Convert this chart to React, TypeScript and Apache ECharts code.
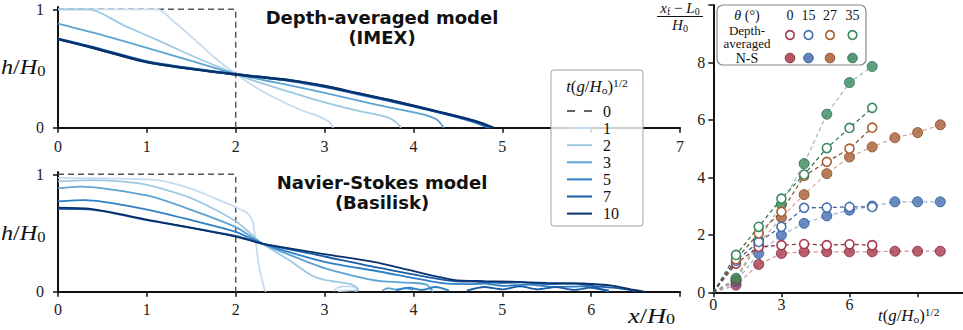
import React, { useEffect, useRef } from "react";
import * as echarts from "echarts";

const SERIF = "'Liberation Serif', 'DejaVu Serif', serif";
const SANS = "'DejaVu Sans', sans-serif";

// ---------------- Left panels: h/H0 profiles vs x/H0 ----------------
const legendTimes = ["0", "1", "2", "3", "5", "7", "10"];
const initialProfile = [[0, 1], [2, 1], [2, 0]];

// Depth-averaged model (IMEX)
const daT1 = [[0, 1], [1.12, 1], [1.3, 0.9], [1.5, 0.77], [1.75, 0.6], [2, 0.455], [2.25, 0.33], [2.5, 0.23], [2.75, 0.145], [2.95, 0.09], [3.05, 0.05], [3.1, 0]];
const daT2 = [[0, 1], [0.35, 1], [0.74, 0.865], [1.12, 0.74], [1.5, 0.61], [2, 0.455], [2.25, 0.385], [2.62, 0.3], [3.0, 0.215], [3.37, 0.145], [3.7, 0.09], [3.8, 0.05], [3.86, 0]];
const daT3 = [[0, 0.88], [0.44, 0.795], [1.0, 0.675], [1.5, 0.565], [2, 0.455], [2.62, 0.355], [3.0, 0.295], [3.37, 0.23], [3.74, 0.17], [4.12, 0.11], [4.27, 0.065], [4.34, 0]];
const daT5 = [[0, 0.75], [0.37, 0.685], [1.0, 0.56], [1.5, 0.5], [2, 0.452], [2.62, 0.395], [3.0, 0.345], [3.37, 0.285], [3.74, 0.225], [4.31, 0.125], [4.65, 0.055], [4.85, 0]];
const daT7 = [[0, 0.75], [0.37, 0.68], [1.0, 0.555], [1.5, 0.497], [2, 0.45], [2.62, 0.4], [3.0, 0.35], [3.37, 0.29], [3.74, 0.23], [4.31, 0.128], [4.68, 0.057], [4.88, 0]];
const daT10 = [[0, 0.748], [0.37, 0.68], [1.0, 0.554], [1.5, 0.497], [2, 0.45], [2.62, 0.4], [3.0, 0.352], [3.37, 0.292], [3.74, 0.232], [4.31, 0.13], [4.7, 0.055], [4.9, 0]];

// Navier-Stokes model (Basilisk)
const nsT1 = [[0, 0.97], [0.5, 0.965], [1.12, 0.95], [1.49, 0.88], [1.75, 0.8], [2, 0.72], [2.13, 0.67], [2.19, 0.6], [2.22, 0.45], [2.26, 0.23], [2.32, 0.03], [2.34, 0], [2.6, "-"], [3.1, 0.005], [3.15, 0.035], [3.25, 0.045], [3.35, 0.035], [3.37, 0.015], [3.25, 0.01], [3.15, 0.005]];
const nsT2 = [[0, 0.94], [0.37, 0.95], [0.93, 0.92], [1.49, 0.8], [2, 0.6], [2.3, 0.41], [2.62, 0.26], [2.84, 0.145], [3.0, 0.1], [3.26, 0.07], [3.35, 0.045], [3.38, 0.015], [3.34, 0.005]];
const nsT3 = [[0, 0.88], [0.25, 0.895], [1.0, 0.82], [1.49, 0.7], [2, 0.55], [2.3, 0.41], [2.62, 0.31], [3.0, 0.2], [3.3, 0.14], [3.63, 0.09], [4.0, 0.075], [4.15, 0.06], [4.2, 0.02], [4.22, 0], [4.3, "-"], [3.65, 0.01], [3.72, 0.03], [3.8, 0.02], [3.9, 0.03], [4.0, 0.015]];
const nsT5 = [[0, 0.77], [0.3, 0.78], [1.0, 0.7], [1.5, 0.61], [2, 0.51], [2.3, 0.41], [3.0, 0.255], [3.63, 0.17], [4.3, 0.075], [4.6, 0.065], [4.8, 0.07], [5.0, 0.05], [5.3, 0.06], [5.6, 0.04], [5.9, 0.045], [6.1, 0.02], [6.2, 0], [6.3, "-"], [3.8, 0.01], [3.95, 0.035], [4.1, 0.015], [4.25, 0.04], [4.4, 0.01]];
const nsT7 = [[0, 0.705], [0.37, 0.7], [1.0, 0.61], [2, 0.475], [2.3, 0.41], [3.0, 0.3], [3.63, 0.2], [4.45, 0.09], [4.7, 0.085], [5.0, 0.075], [5.2, 0.08], [5.5, 0.065], [5.8, 0.07], [6.0, 0.05], [6.3, 0.03], [6.5, 0.005], [6.55, "-"], [4.6, 0.01], [4.8, 0.04], [5.0, 0.02], [5.2, 0.045], [5.4, 0.02], [5.6, 0.04], [5.8, 0.015], [6.0, 0.035], [6.2, 0.01]];
const nsT10 = [[0, 0.716], [0.37, 0.705], [1.0, 0.615], [2, 0.47], [2.3, 0.41], [3.0, 0.32], [3.63, 0.242], [4.45, 0.1], [4.8, 0.09], [5.1, 0.085], [5.5, 0.075], [5.9, 0.07], [6.25, 0.05], [6.45, 0.02], [6.6, 0]];

const daProfiles = [daT1, daT2, daT3, daT5, daT7, daT10];
const nsProfiles = [nsT1, nsT2, nsT3, nsT5, nsT7, nsT10];
const profileColors = ["#c6dbef", "#9ecae1", "#5da3d3", "#2f7fc4", "#185ca6", "#08306b"];

// ---------------- Right panel: front position (x_f - L0)/H0 ----------------
const angleLabels = ["0", "15", "27", "35"];
const tDepthAveraged = [0, 1, 2, 3, 4, 5, 6, 7];
const tNavierStokes = [0, 1, 2, 3, 4, 5, 6, 7, 8, 9, 10];
const tNavierStokes35 = [0, 1, 2, 3, 4, 5, 6, 7];
const da0 = [0, 1.0, 1.58, 1.64, 1.68, 1.64, 1.67, 1.64];
const da15 = [0, 1.1, 1.75, 2.28, 2.94, 2.95, 2.97, 2.97];
const da27 = [0, 1.15, 2.05, 2.8, 4.05, 4.54, 5.0, 5.73];
const da35 = [0, 1.3, 2.28, 3.26, 4.1, 5.02, 5.72, 6.42];
const ns0 = [0, 0.25, 0.97, 1.35, 1.41, 1.41, 1.41, 1.41, 1.43, 1.43, 1.43];
const ns15 = [0, 0.37, 1.35, 1.99, 2.4, 2.66, 2.86, 3.0, 3.15, 3.15, 3.15];
const ns27 = [0, 0.43, 1.7, 2.6, 3.4, 4.13, 4.71, 5.06, 5.38, 5.56, 5.83];
const ns35 = [0, 0.49, 1.82, 3.06, 4.48, 6.2, 7.3, 7.86];
const angleColors = ["#a83a4c", "#4470b2", "#a85f34", "#3a8a5e"];
const angleDark = ["#7e2233", "#2b5192", "#84451f", "#24684a"];

const mathRich = (size: number) => ({
  i: { fontFamily: SERIF, fontStyle: "italic", fontSize: size, lineHeight: size + 2, fill: "#111" },
  n: { fontFamily: SERIF, fontSize: size, lineHeight: size + 2, fill: "#111" },
  s: { fontFamily: SERIF, fontSize: Math.round(size * 0.68), lineHeight: Math.round(size * 0.6), verticalAlign: "bottom", fill: "#111" },
  p: { fontFamily: SERIF, fontSize: Math.round(size * 0.68), lineHeight: Math.round(size * 0.6), verticalAlign: "top", fill: "#111" },
});

const mathText = (x: number, y: number, text: string, size: number, align = "left", sx = 1) => ({
  type: "text",
  x,
  y,
  scaleX: sx,
  z: 120,
  style: {
    text,
    rich: mathRich(size),
    fontFamily: SERIF,
    fontSize: size,
    lineHeight: size + 2,
    fill: "#111",
    align,
    textAlign: align,
    verticalAlign: "middle",
    textVerticalAlign: "middle",
  },
});

const plainText = (x: number, y: number, text: string, size: number, align = "center", family = SERIF, weight = "normal", sx = 1, lh = 0) => ({
  type: "text",
  x,
  y,
  scaleX: sx,
  z: 120,
  style: {
    text,
    fontFamily: family,
    fontSize: size,
    fontWeight: weight,
    lineHeight: lh || size + 2,
    fill: "#111",
    align,
    textAlign: align,
    verticalAlign: "middle",
    textVerticalAlign: "middle",
  },
});

const axisCommon = (gridIndex: number, min: number, max: number, ticks: number[], labels: number[], margin: number) => ({
  gridIndex,
  type: "value",
  min,
  max,
  axisLine: { show: true, onZero: false, lineStyle: { color: "#111", width: 2 } },
  axisTick: { show: true, length: 5, customValues: ticks, lineStyle: { color: "#111", width: 1.5 } },
  axisLabel: { customValues: labels, margin, fontFamily: SERIF, fontSize: 16, color: "#222" },
  splitLine: { show: false },
});

export default function App() {
  const ref = useRef<HTMLDivElement>(null);
  useEffect(() => {
    if (!ref.current) return;
    const chart = echarts.init(ref.current, undefined, { renderer: "svg" });

    const series: any[] = [];
    [0, 1].forEach((p) => {
      series.push({
        type: "line",
        xAxisIndex: p,
        yAxisIndex: p,
        data: initialProfile,
        symbol: "none",
        silent: true,
        lineStyle: { color: "#555", width: 1.5, type: [6, 4] },
        z: 2,
      });
      const profs = p === 0 ? daProfiles : nsProfiles;
      profs.forEach((d, i) => {
        series.push({
          type: "line",
          name: legendTimes[i + 1],
          xAxisIndex: p,
          yAxisIndex: p,
          data: d,
          symbol: "none",
          smooth: 0.25,
          connectNulls: false,
          silent: true,
          lineStyle: { color: profileColors[i], width: p === 0 && i >= 3 ? 2.4 : 1.8 },
          z: 3 + i,
        });
      });
    });

    const mk = (ts: number[], vs: number[]) =>
      ts.map((t, i) => (i === 0 ? { value: [t, vs[i]], symbol: "none" } : [t, vs[i]]));
    const nsSets = [
      [tNavierStokes, ns0],
      [tNavierStokes, ns15],
      [tNavierStokes, ns27],
      [tNavierStokes35, ns35],
    ];
    const daSets = [da0, da15, da27, da35];
    nsSets.forEach(([ts, vs], k) => {
      series.push({
        type: "line",
        name: "N-S " + angleLabels[k],
        xAxisIndex: 2,
        yAxisIndex: 2,
        data: mk(ts as number[], vs as number[]),
        symbol: "circle",
        symbolSize: 10,
        silent: true,
        lineStyle: { color: angleColors[k], width: 1.2, type: [4, 3], opacity: 0.55 },
        itemStyle: { color: angleColors[k], opacity: 0.8, borderColor: angleDark[k], borderWidth: 1 },
        z: 5,
      });
    });
    daSets.forEach((vs, k) => {
      series.push({
        type: "line",
        name: "Depth-averaged " + angleLabels[k],
        xAxisIndex: 2,
        yAxisIndex: 2,
        data: mk(tDepthAveraged, vs),
        symbol: "circle",
        symbolSize: 9,
        silent: true,
        lineStyle: { color: angleDark[k], width: 1.3, type: [4, 3], opacity: 0.9 },
        itemStyle: { color: "#ffffff", borderColor: angleColors[k], borderWidth: 1.6 },
        z: 6,
      });
    });

    const graphics: any[] = [];
    // titles
    graphics.push(plainText(382, 17, "Depth-averaged model", 18, "center", SANS, "bold"));
    graphics.push(plainText(382, 37, "(IMEX)", 18, "center", SANS, "bold"));
    graphics.push(plainText(382, 182, "Navier-Stokes model", 18, "center", SANS, "bold"));
    graphics.push(plainText(382, 202, "(Basilisk)", 18, "center", SANS, "bold"));
    // axis labels
    graphics.push(mathText(1, 66, "{i|h}{n|/}{i|H}{s|0}", 22, "left", 1.1));
    graphics.push(mathText(1, 232, "{i|h}{n|/}{i|H}{s|0}", 22, "left", 1.1));
    graphics.push(mathText(628, 315, "{i|x}{n|/}{i|H}{s|0}", 22, "left", 1.2));
    graphics.push(mathText(878, 316, "{i|t}{n|(}{i|g}{n|/}{i|H}{s|o}{n|)}{p|1/2}", 16, "left", 1.05));
    graphics.push(mathText(680, 8, "{i|x}{s|f}{n| − }{i|L}{s|0}", 15, "center"));
    graphics.push({ type: "line", z: 120, shape: { x1: 657, y1: 16.5, x2: 703, y2: 16.5 }, style: { stroke: "#111", lineWidth: 1 } });
    graphics.push(mathText(680, 25, "{i|H}{s|0}", 15, "center"));

    // left legend
    graphics.push({
      type: "rect",
      z: 110,
      shape: { x: 551, y: 70, width: 92, height: 156, r: 3 },
      style: { fill: "rgba(255,255,255,0.8)", stroke: "#a0a0a0", lineWidth: 1 },
    });
    graphics.push(mathText(597, 87, "{i|t}{n|(}{i|g}{n|/}{i|H}{s|o}{n|)}{p|1/2}", 16, "center", 1.05));
    legendTimes.forEach((lab, i) => {
      const y = 111 + i * 17.1;
      graphics.push({
        type: "line",
        z: 120,
        shape: { x1: 567, y1: y, x2: 592, y2: y },
        style: {
          stroke: i === 0 ? "#333" : profileColors[i - 1],
          lineWidth: i === 0 ? 1.6 : 2,
          lineDash: i === 0 ? [8, 9] : null,
        },
      });
      graphics.push(plainText(603, y, lab, 16, "left"));
    });

    // right legend
    graphics.push({
      type: "rect",
      z: 110,
      shape: { x: 717, y: 5, width: 149, height: 60, r: 6 },
      style: { fill: "rgba(255,255,255,0.8)", stroke: "#888", lineWidth: 1.2 },
    });
    graphics.push(mathText(747, 15, "{i|θ}{n| (°)}", 14, "center"));
    graphics.push(plainText(747, 30, "Depth-", 13, "center", SERIF, "normal", 1, 11));
    graphics.push(plainText(747, 43.5, "averaged", 13, "center", SERIF, "normal", 1, 11));
    graphics.push(plainText(747, 58, "N-S", 14, "center", SERIF, "normal", 1, 12));
    const legXs = [790, 808.5, 830, 852.5];
    angleLabels.forEach((lab, k) => {
      graphics.push(plainText(legXs[k], 15, lab, 14));
      graphics.push({
        type: "circle",
        z: 120,
        shape: { cx: legXs[k], cy: 35, r: 4.3 },
        style: { fill: "#fff", stroke: angleColors[k], lineWidth: 1.6 },
      });
      graphics.push({
        type: "circle",
        z: 120,
        shape: { cx: legXs[k], cy: 58, r: 4.8 },
        style: { fill: angleColors[k], opacity: 0.85, stroke: angleDark[k], lineWidth: 1 },
      });
    });

    chart.setOption({
      animation: false,
      backgroundColor: "#ffffff",
      grid: [
        { left: 58, top: 7, width: 622, height: 120.7 },
        { left: 58, top: 172, width: 622, height: 119.7 },
        { left: 713.3, top: 5, width: 250, height: 287.3 },
      ],
      xAxis: [
        axisCommon(0, 0, 7, [0, 1, 2, 3, 4, 5, 6, 7], [0, 1, 2, 3, 4, 5, 7], 11),
        axisCommon(1, 0, 7, [0, 1, 2, 3, 4, 5, 6, 7], [0, 1, 2, 3, 4, 5, 6], 10),
        axisCommon(2, 0, 11, [0, 3, 6, 9], [0, 3, 6], 4),
      ],
      yAxis: [
        axisCommon(0, 0, 1.02, [0, 1], [0, 1], 14),
        axisCommon(1, 0, 1.02, [0, 1], [0, 1], 14),
        axisCommon(2, 0, 10, [0, 2, 4, 6, 8, 10], [0, 2, 4, 6, 8], 8),
      ],
      series,
      graphic: { elements: graphics },
    });
    return () => chart.dispose();
  }, []);
  return <div ref={ref} style={{ position: "fixed", left: 0, top: 0, width: 963, height: 330 }} />;
}
